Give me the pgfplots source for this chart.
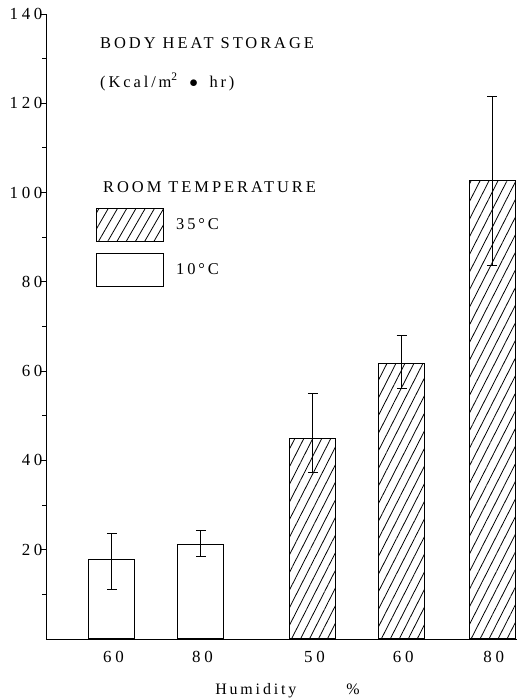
\documentclass[border=0pt]{standalone}
\usepackage{fontspec}
\setmainfont{Liberation Serif}[LetterSpace=18]
\newfontfamily\tickfont{Liberation Serif}[LetterSpace=22]
\usepackage{pgfplots}
\pgfplotsset{compat=1.18}
\usetikzlibrary{patterns.meta}
\begin{document}
\begin{tikzpicture}[x=1bp,y=1bp]
\path[use as bounding box] (0,0) rectangle (529,700);
\begin{axis}[
  at={(46bp,61bp)}, anchor=south west,
  width=471bp, height=625bp, scale only axis,
  xmin=0, xmax=5.31, ymin=0, ymax=140,
  axis x line*=bottom, axis y line*=left,
  axis line style={-, line width=0.9bp},
  ytick={20,40,...,140},
  minor ytick={10,30,...,130},
  tick align=outside,
  major tick length=5bp, minor tick length=4bp,
  tick style={line width=0.9bp, black},
  xtick={0.744,1.747,3.01,4.01,5.03},
  xticklabels={60,80,50,60,80},
  x tick style={draw=none},
  /pgf/number format/assume math mode=true,
  ticklabel style={font=\tickfont\fontsize{17}{17}\selectfont},
  xticklabel style={yshift=-4bp, xshift=1.5bp},
  yticklabel style={xshift=5bp},
  xlabel={Humidity\hspace{50bp}\%},
  xlabel style={font=\fontsize{16}{16}\selectfont, yshift=-14bp, xshift=6bp},
  legend style={at={(rel axis cs:0.106,0.690)}, anchor=north west, draw=none, fill=none,
    inner sep=0pt, row sep=11bp, column sep=12bp,
    font=\fontsize{16.5}{16.5}\selectfont, nodes={inner sep=0pt}},
  legend cell align=left,
  legend image code/.code={\draw[#1] (0bp,-16.5bp) rectangle (67bp,16.5bp);},
]
% 10 C bars
\addplot[ybar, bar shift=0pt, bar width=46bp, draw=black, line width=1bp, fill=white, forget plot,
  error bars/.cd, y dir=both, y explicit,
  error bar style={line width=1bp, black},
  error mark options={rotate=90, line width=1bp, mark size=5bp, black}]
coordinates {
  (0.744,17.7) += (0,6.0) -= (0,6.6)
  (1.747,21.1) += (0,3.3) -= (0,2.6)
};
% 35 C bars
\addplot[ybar, bar shift=0pt, bar width=46bp, draw=black, line width=1bp,
  pattern={Lines[angle=63, distance=8bp, line width=0.8bp]}, forget plot,
  error bars/.cd, y dir=both, y explicit,
  error bar style={line width=1bp, black},
  error mark options={rotate=90, line width=1bp, mark size=5bp, black}]
coordinates {
  (3.01,44.9) += (0,10.0) -= (0,7.7)
  (4.01,61.7) += (0,6.3) -= (0,5.5)
  (5.03,102.8) += (0,18.7) -= (0,19.2)
};
\addlegendimage{draw=black, line width=1bp, pattern={Lines[angle=60, distance=8bp, line width=0.8bp]}}
\addlegendentry{35\,°C}
\addlegendimage{draw=black, line width=1bp, fill=white}
\addlegendentry{10\,°C}
\end{axis}
\node[anchor=west, inner sep=0pt, font=\fontsize{16.5}{16.5}\selectfont] at (100,657) {BODY HEAT STORAGE};
\node[anchor=west, inner sep=0pt, font=\fontsize{16.5}{16.5}\selectfont] at (100,618) {(Kcal\,/\,m\textsuperscript{2}\; $\bullet$\; hr\,)};
\node[anchor=west, inner sep=0pt, font=\fontsize{16.5}{16.5}\selectfont] at (103,513) {ROOM TEMPERATURE};
\end{tikzpicture}
\end{document}
